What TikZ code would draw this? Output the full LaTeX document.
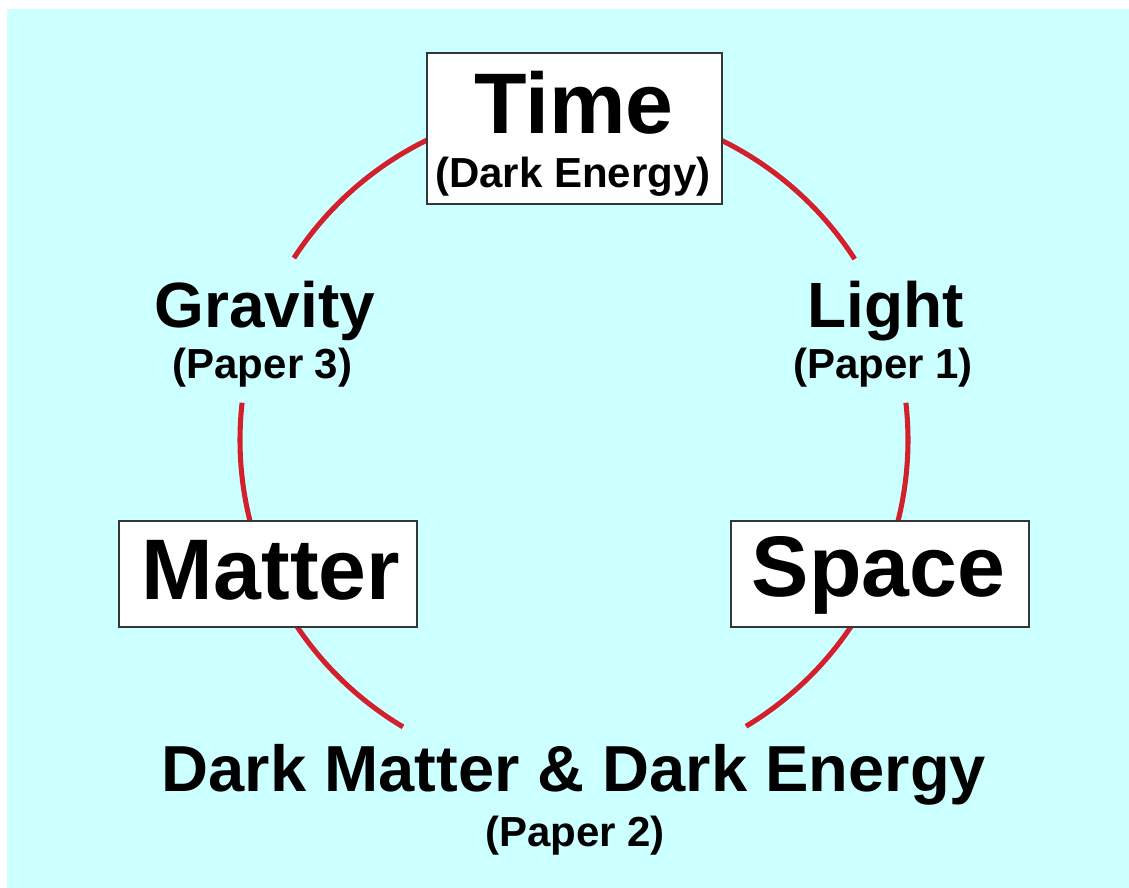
\documentclass[tikz,border=0pt]{standalone}
\usepackage{fontspec}
\setmainfont{Liberation Sans}
\definecolor{bgcyan}{RGB}{204,255,255}
\definecolor{ringred}{RGB}{210,32,44}
\definecolor{boxgray}{RGB}{50,55,55}
\begin{document}
\begin{tikzpicture}[x=0.75pt,y=0.75pt,
  boxnode/.style={draw=boxgray,line width=1.5pt,fill=white,inner sep=0pt,rectangle},
  huge/.style={font=\fontsize{64.5}{70}\selectfont\bfseries,inner sep=0pt,anchor=base},
  mid/.style={font=\fontsize{48}{54}\selectfont\bfseries,inner sep=0pt,anchor=base},
  small/.style={font=\fontsize{31.5}{36}\selectfont\bfseries,inner sep=0pt,anchor=base},
  ring/.style={draw=ringred,line width=3.8pt,line cap=butt}]
\useasboundingbox (0,0) rectangle (1129,888);
\fill[white] (0,0) rectangle (1129,888);
\fill[bgcyan] (7,-10) rectangle (1140,879);
\coordinate (c) at (574,448);
% ring arcs
\draw[ring] (c) ++(32.8:334) arc[start angle=32.8,end angle=147,radius=334];
\draw[ring] (c) ++(173.6:334) arc[start angle=173.6,end angle=239.2,radius=334];
\draw[ring] (c) ++(-59:334) arc[start angle=-59,end angle=6.4,radius=334];
% boxes
\node[boxnode,minimum width=221.25pt,minimum height=113.25pt] (timebox) at (574.5,759.5) {};
\node[boxnode,minimum width=223.5pt,minimum height=79.5pt] (matterbox) at (268,314) {};
\node[boxnode,minimum width=223.5pt,minimum height=79.5pt] (spacebox) at (880,314) {};
% texts
\node[huge] (time) at (574,754) {Time};
\node[small] (timesub) at (573,700) {(Dark Energy)};
\node[huge] (matter) at (271,288) {Matter};
\node[huge] (space) at (878.5,291) {Space};
\node[mid] (gravity) at (265,560) {Gravity};
\node[small] (gravsub) at (262.5,509) {(Paper 3)};
\node[mid] (light) at (885.5,560) {Light};
\node[small] (lightsub) at (883,509) {(Paper 1)};
\node[mid,font=\fontsize{48.8}{54}\selectfont\bfseries] (dark) at (574,96) {Dark Matter \& Dark Energy};
\node[small] (darksub) at (575,41) {(Paper 2)};
\end{tikzpicture}
\end{document}
